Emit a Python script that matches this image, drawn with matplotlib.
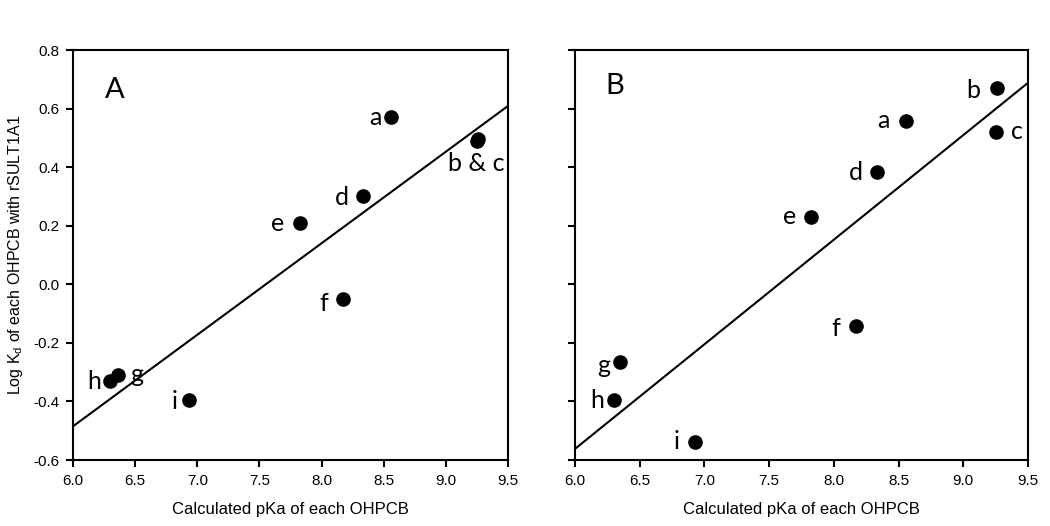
import matplotlib
matplotlib.use("Agg")
import matplotlib.pyplot as plt

plt.rcParams['font.family'] = ['Liberation Sans', 'DejaVu Sans']

# dados
pka_a = [8.56, 9.25, 9.26, 8.33, 7.83, 8.17, 6.36, 6.30, 6.93]
logkd_a = [0.57, 0.49, 0.495, 0.30, 0.21, -0.05, -0.31, -0.33, -0.395]
nomes_a = ['a', '', 'b & c', 'd', 'e', 'f', 'g', 'h', 'i']
fit_a_x = [6.0, 9.5]
fit_a_y = [-0.485, 0.609]

pka_b = [8.56, 9.26, 9.25, 8.33, 7.82, 8.17, 6.35, 6.30, 6.93]
logkd_b = [0.559, 0.669, 0.521, 0.382, 0.231, -0.141, -0.266, -0.395, -0.537]
nomes_b = ['a', 'b', 'c', 'd', 'e', 'f', 'g', 'h', 'i']
fit_b_x = [6.0, 9.5]
fit_b_y = [-0.562, 0.688]

xticks = [6.0, 6.5, 7.0, 7.5, 8.0, 8.5, 9.0, 9.5]
yticks = [-0.6, -0.4, -0.2, 0.0, 0.2, 0.4, 0.6, 0.8]

# deslocamento dos rotulos (em pixels, y para cima)
desl_a = [(-16, 0), (0, 0), (-2, -24), (-21, -1), (-23, -1), (-19, -5), (19, 1), (-16, -1), (-14, -2)]
desl_b = [(-23, 0), (-24, -2), (21, 0), (-21, 0), (-21, 0), (-20, -3), (-17, -3), (-17, -1), (-19, 0)]

fig = plt.figure(figsize=(10.5, 5.26), dpi=100)
W, H = 1050, 526
ax1 = fig.add_axes([73 / W, (H - 460) / H, 435 / W, 410 / H])
ax2 = fig.add_axes([575 / W, (H - 460) / H, 453 / W, 410 / H])


def painel(ax, x, y, nomes, desl, fx, fy, letra, pos_letra, rotulos_y):
    ax.plot(fx, fy, color='black', lw=1.5)
    ax.plot(x, y, 'o', color='black', markersize=9.5, zorder=3)
    for xi, yi, n, (dx, dy) in zip(x, y, nomes, desl):
        if n == '':
            continue
        ax.annotate(n, (xi, yi), xytext=(dx * 0.72, dy * 0.72), textcoords='offset points',
                    ha='center', va='center', fontsize=18, family=['Lato', 'DejaVu Sans'])
    ax.text(pos_letra[0], pos_letra[1], letra, transform=ax.transAxes, fontsize=21,
            ha='center', va='center', family=['Lato', 'DejaVu Sans'])
    ax.set_xlim(6.0, 9.5)
    ax.set_ylim(-0.6, 0.8)
    ax.set_xticks(xticks)
    ax.set_xticklabels(['%.1f' % v for v in xticks])
    ax.set_yticks(yticks)
    if rotulos_y:
        ax.set_yticklabels(['%.1f' % v for v in yticks])
    else:
        ax.set_yticklabels([])
    for s in ax.spines.values():
        s.set_linewidth(1.5)
    ax.tick_params(direction='out', length=5, width=1.5, labelsize=11, pad=5)
    ax.set_xlabel('Calculated pKa of each OHPCB', fontsize=12, labelpad=10)


painel(ax1, pka_a, logkd_a, nomes_a, desl_a, fit_a_x, fit_a_y, 'A', ((115 - 73) / 435, (460 - 90) / 410), True)
painel(ax2, pka_b, logkd_b, nomes_b, desl_b, fit_b_x, fit_b_y, 'B', ((615 - 575) / 453, (460 - 86) / 410), False)
ax1.set_ylabel('Log K$_\\mathregular{d}$ of each OHPCB with rSULT1A1', fontsize=11.5, labelpad=6)

fig.savefig('out.png', dpi=100)
